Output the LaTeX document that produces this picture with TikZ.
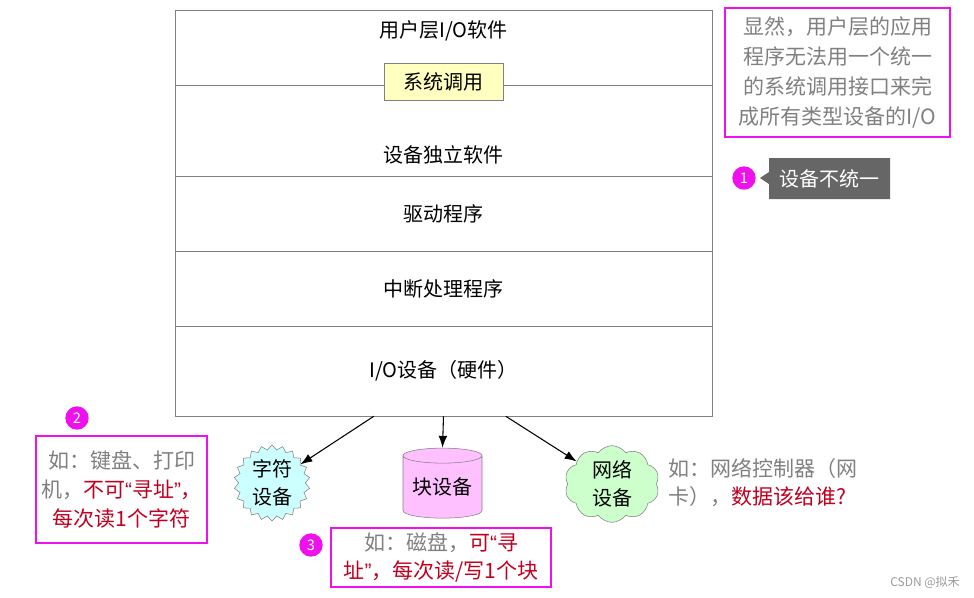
\documentclass[tikz,border=0pt]{standalone}
\usepackage{fontspec}
\setmainfont{Noto Sans CJK SC}
\newfontfamily\quotefont{Liberation Sans}
\newcommand\oq{{\quotefont “}}
\newcommand\cq{{\quotefont ”}}
\usetikzlibrary{shapes.geometric,shapes.symbols,shapes.callouts,arrows.meta}
\definecolor{mag}{RGB}{238,17,238}
\definecolor{txtgray}{RGB}{128,128,128}
\definecolor{txtred}{RGB}{192,0,32}
\definecolor{callgray}{RGB}{102,102,102}
\definecolor{sysfill}{RGB}{255,255,192}
\definecolor{chrfill}{RGB}{204,255,255}
\definecolor{blkfill}{RGB}{255,192,255}
\definecolor{netfill}{RGB}{204,255,204}

\begin{document}
\begin{tikzpicture}[x=0.75pt,y=-0.75pt]
  \tikzstyle{every node}=[font=\fontsize{15}{18}\selectfont]
  \tikzstyle{layer}=[draw=gray,minimum width=402.75pt,inner sep=0pt]
  \tikzstyle{note}=[draw=mag,line width=2pt,text=txtgray,align=center,inner sep=0pt,
  font=\fontsize{15.75}{22.5}\selectfont]
  \tikzstyle{num}=[circle,fill=mag,text=white,minimum size=17.5pt,inner sep=0pt,
  font=\fontsize{11}{11}\selectfont]
  \tikzstyle{dev}=[draw=gray,align=center,inner sep=0pt,font=\fontsize{15}{21}\selectfont]
  \tikzstyle{arr}=[-{Latex[length=9pt,width=6.5pt]},thick]

  \useasboundingbox (0,0) rectangle (974,597);

  % the layers of the I/O software
  \node[layer,minimum height=56.25pt] (user) at (443.5,47.5) {};
  \node[layer,minimum height=68.25pt] (indep) at (443.5,130.5) {};
  \node[layer,minimum height=56.25pt] (drv) at (443.5,213.5) {驱动程序};
  \node[layer,minimum height=56.25pt] (intr) at (443.5,288.5) {中断处理程序};
  \node[layer,minimum height=67.5pt] (hw) at (443.5,371) {I/O设备（硬件）};
  \node (usertxt) at (443.5,31) {用户层I/O软件};
  \node (indeptxt) at (443.5,155) {设备独立软件};
  \node[draw=gray,fill=sysfill,minimum width=89.25pt,minimum height=27.75pt] (sys)
  at (443.5,81.5) {系统调用};

  % devices
  \node[dev,star,star points=22,star point ratio=1.14,fill=chrfill,minimum size=57pt] (chr)
  at (272,483) {字符\\设备};
  \node[dev,cylinder,shape border rotate=90,aspect=0.25,fill=blkfill,
  minimum width=59.25pt,minimum height=52.5pt] (blk) at (442.5,487) {块设备};
  \node[dev,cloud,cloud puffs=10,cloud puff arc=110,aspect=1.3,fill=netfill,
  minimum width=71pt,minimum height=54pt] (net) at (612,484) {网络\\设备};

  \draw[arr] (hw.213) -- (chr);
  \draw[arr] (hw.south) -- (blk.north);
  \draw[arr] (hw.-36) -- (net);

  % remarks
  \node[note,minimum width=168.75pt,minimum height=96.75pt] (n0) at (837.5,72.5)
  {显然，用户层的应用\\程序无法用一个统一\\的系统调用接口来完\\成所有类型设备的I/O};
  \node[num] (c1) at (744,178) {1};
  \node[rectangle callout,fill=callgray,text=white,minimum width=90.75pt,
  minimum height=30.75pt,callout absolute pointer={(760,178)},
  callout pointer width=9pt] (uni) at (829.5,178.5) {设备不统一};

  \node[num] (c2) at (77,418) {2};
  \node[note,minimum width=128.25pt,minimum height=80.25pt,
  font=\fontsize{15.75}{21.75}\selectfont] (n2) at (121.5,489.5)
  {如：键盘、打印\\机，\textcolor{txtred}{不可\oq 寻址\cq ，}\\\textcolor{txtred}{每次读1个字符}};

  \node[num] (c3) at (311,545) {3};
  \node[note,minimum width=165pt,minimum height=44.25pt,
  font=\fontsize{15.75}{21}\selectfont] (n3) at (441,557.5)
  {如：磁盘，\textcolor{txtred}{可\oq 寻}\\\textcolor{txtred}{址\cq ，每次读/写1个块}};

  \node[text=txtgray,align=left,anchor=west,inner sep=0pt,
  font=\fontsize{15.75}{21}\selectfont] (n4) at (668,483)
  {如：网络控制器（网\\卡），\textcolor{txtred}{数据该给谁?}};

  \node[text=txtgray!80,font=\fontsize{9}{10}\selectfont] (csdn) at (925,582) {CSDN @拟禾};
\end{tikzpicture}
\end{document}
